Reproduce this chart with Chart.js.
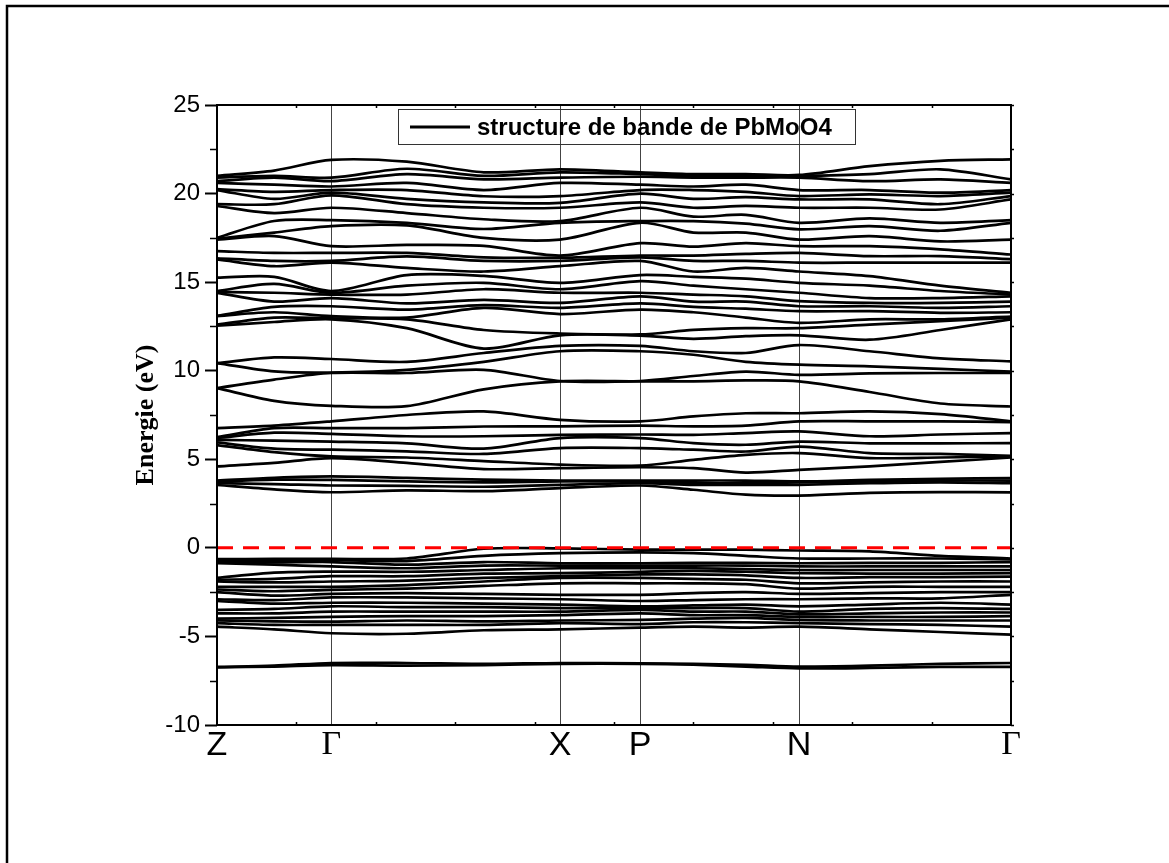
<!DOCTYPE html>
<html>
<head>
<meta charset="utf-8">
<script src="https://cdn.jsdelivr.net/npm/chart.js@4.4.0/dist/chart.umd.min.js"></script>
<style>
	html, body { margin: 0; padding: 0; background: #fff; }
	canvas { display: block; }
</style>
</head>
<body>
<canvas id="bands" width="1169" height="863"></canvas>
<script>
"use strict";

// k-path: sampling points along Z-G-X-P-N-G (arbitrary units, 0..10)
var kPoints = [0, 0.72, 1.44, 2.39, 3.36, 4.32, 5.33, 6.0, 6.66, 7.33, 8.22, 9.11, 10];
var symPoints = [0, 1.44, 4.32, 5.33, 7.33, 10];
var symLabels = ["Z", "\u0393", "X", "P", "N", "\u0393"];
var yTicks = [-10, -5, 0, 5, 10, 15, 20, 25];
var fermiLevel = 0;
var legendLabel = "structure de bande de PbMoO4";

// energies (eV), one column per k-point, sorted upward inside each group
var coreBands = [
	[-6.75, -6.72], [-6.7, -6.65], [-6.62, -6.5], [-6.65, -6.5], [-6.62, -6.55],
	[-6.55, -6.5], [-6.55, -6.52], [-6.6, -6.55], [-6.7, -6.6], [-6.8, -6.7],
	[-6.78, -6.65], [-6.72, -6.55], [-6.72, -6.5]
];

var valenceBands = [
	[-4.45, -4.25, -4.1, -4.0, -3.7, -3.5, -3.0, -2.9, -2.5, -2.35, -2.2, -1.9, -1.8, -1.7, -0.87, -0.8, -0.72, -0.64],
	[-4.6, -4.35, -4.15, -3.95, -3.7, -3.45, -3.15, -2.95, -2.7, -2.45, -2.2, -1.95, -1.75, -1.4, -0.95, -0.82, -0.72, -0.62],
	[-4.82, -4.35, -4.16, -3.9, -3.6, -3.3, -3.1, -2.8, -2.6, -2.37, -2.2, -1.9, -1.6, -1.34, -1.05, -0.8, -0.68, -0.62],
	[-4.85, -4.35, -4.1, -3.85, -3.6, -3.35, -3.1, -2.8, -2.55, -2.3, -2.1, -1.85, -1.6, -1.35, -1.15, -0.95, -0.75, -0.6],
	[-4.65, -4.35, -4.15, -3.85, -3.6, -3.35, -3.15, -2.85, -2.6, -2.15, -1.9, -1.7, -1.45, -1.25, -1.0, -0.8, -0.45, -0.05],
	[-4.6, -4.25, -4.1, -3.8, -3.6, -3.4, -3.2, -2.9, -2.65, -2.0, -1.7, -1.6, -1.43, -1.15, -1.0, -0.87, -0.3, -0.03],
	[-4.5, -4.3, -4.07, -3.7, -3.5, -3.4, -3.3, -3.0, -2.65, -2.0, -1.7, -1.5, -1.35, -1.15, -1.0, -0.87, -0.25, -0.1],
	[-4.45, -4.2, -4.0, -3.8, -3.6, -3.4, -3.25, -2.95, -2.55, -2.0, -1.75, -1.5, -1.3, -1.15, -1.0, -0.85, -0.3, -0.1],
	[-4.5, -4.2, -3.95, -3.8, -3.6, -3.4, -3.2, -2.9, -2.5, -2.05, -1.8, -1.55, -1.35, -1.2, -1.0, -0.85, -0.45, -0.1],
	[-4.45, -4.25, -4.07, -3.9, -3.75, -3.6, -3.3, -2.9, -2.6, -2.3, -2.0, -1.7, -1.43, -1.25, -1.05, -0.87, -0.6, -0.15],
	[-4.6, -4.3, -4.1, -3.9, -3.7, -3.45, -3.2, -2.85, -2.55, -2.2, -1.95, -1.65, -1.45, -1.25, -1.05, -0.85, -0.6, -0.2],
	[-4.75, -4.35, -4.1, -3.9, -3.65, -3.4, -3.1, -2.85, -2.5, -2.2, -1.9, -1.65, -1.45, -1.25, -1.05, -0.85, -0.6, -0.45],
	[-4.9, -4.45, -4.1, -3.85, -3.65, -3.45, -3.2, -2.65, -2.5, -2.2, -1.9, -1.62, -1.43, -1.25, -1.05, -0.8, -0.65, -0.6]
];

var lowConduction = [
	[3.55, 3.65, 3.75, 3.8, 4.6, 5.8, 5.95, 6.1, 6.2, 6.25, 6.76],
	[3.3, 3.6, 3.85, 3.95, 4.8, 5.4, 5.6, 6.05, 6.5, 6.76, 6.9],
	[3.14, 3.52, 3.84, 4.03, 5.07, 5.16, 5.54, 6.0, 6.44, 6.76, 7.14],
	[3.25, 3.5, 3.75, 3.95, 4.8, 5.1, 5.45, 5.9, 6.3, 6.76, 7.5],
	[3.2, 3.45, 3.7, 3.85, 4.45, 4.9, 5.3, 5.6, 6.3, 6.85, 7.7],
	[3.37, 3.56, 3.75, 3.8, 4.5, 4.7, 5.63, 6.2, 6.38, 6.86, 7.23],
	[3.52, 3.65, 3.75, 3.8, 4.55, 4.65, 5.63, 6.2, 6.4, 6.9, 7.14],
	[3.28, 3.56, 3.65, 3.8, 4.5, 4.97, 5.54, 5.91, 6.38, 6.86, 7.42],
	[3.0, 3.55, 3.65, 3.8, 4.25, 5.25, 5.44, 5.82, 6.48, 6.9, 7.6],
	[2.95, 3.56, 3.7, 3.75, 4.4, 5.35, 5.72, 6.0, 6.57, 7.14, 7.6],
	[3.1, 3.65, 3.75, 3.84, 4.6, 5.07, 5.35, 5.9, 6.3, 7.14, 7.7],
	[3.15, 3.7, 3.8, 3.9, 4.85, 5.1, 5.3, 5.9, 6.4, 7.14, 7.55],
	[3.13, 3.65, 3.8, 3.94, 5.1, 5.16, 5.2, 5.91, 6.48, 7.1, 7.14]
];

var midConduction = [
	[9.02, 9.02, 10.43, 10.43, 12.54, 12.6],
	[8.3, 9.5, 9.96, 10.75, 12.75, 13.0],
	[8.02, 9.87, 9.9, 10.66, 12.9, 12.95],
	[8.0, 9.87, 10.05, 10.5, 12.4, 12.9],
	[8.95, 10.05, 10.5, 11.0, 11.25, 12.3],
	[9.4, 9.42, 11.1, 11.4, 12.0, 12.1],
	[9.4, 9.42, 11.1, 11.4, 11.98, 12.05],
	[9.4, 9.7, 10.9, 11.1, 11.8, 12.3],
	[9.45, 9.95, 10.5, 11.0, 11.95, 12.4],
	[9.4, 9.77, 10.34, 11.45, 12.0, 12.4],
	[8.8, 9.85, 10.25, 11.1, 11.75, 12.6],
	[8.15, 9.87, 10.1, 10.7, 12.3, 12.8],
	[7.98, 9.87, 9.95, 10.53, 12.9, 13.0]
];

var highConduction = [
	[13.08, 13.1, 14.4, 14.45, 14.5, 15.25, 16.28, 16.35, 16.75, 17.4, 17.45, 17.5, 19.3, 19.4, 20.2, 20.25, 20.6, 20.7, 20.9, 21.0],
	[13.3, 13.6, 13.9, 14.4, 14.9, 15.3, 15.9, 16.2, 16.65, 17.6, 17.8, 18.45, 18.9, 19.4, 19.7, 20.1, 20.5, 20.9, 21.0, 21.3],
	[13.08, 13.64, 14.1, 14.3, 14.4, 14.5, 16.1, 16.2, 16.65, 17.03, 18.16, 18.5, 19.2, 19.9, 20.05, 20.2, 20.4, 20.7, 20.9, 21.9],
	[13.0, 13.45, 13.8, 14.3, 14.8, 15.4, 15.8, 16.45, 16.65, 17.1, 18.2, 18.35, 18.9, 19.4, 19.7, 20.2, 20.6, 21.1, 21.4, 21.8],
	[13.55, 13.7, 14.0, 14.6, 14.96, 15.35, 15.6, 16.2, 16.4, 17.05, 17.5, 18.0, 18.55, 19.2, 19.5, 19.85, 20.2, 20.8, 21.0, 21.2],
	[13.2, 13.55, 13.83, 14.4, 14.6, 14.96, 15.9, 16.2, 16.38, 16.5, 17.4, 18.35, 18.45, 19.2, 19.48, 19.86, 20.6, 20.9, 21.2, 21.37],
	[13.45, 13.8, 14.2, 14.4, 15.06, 15.4, 16.2, 16.4, 16.5, 17.2, 18.35, 18.45, 19.2, 19.5, 20.0, 20.2, 20.5, 20.95, 21.1, 21.2],
	[13.3, 13.6, 13.9, 14.3, 14.8, 15.3, 15.6, 16.2, 16.5, 17.0, 17.8, 18.45, 18.7, 19.2, 19.7, 20.2, 20.4, 20.9, 21.0, 21.1],
	[13.0, 13.5, 13.9, 14.2, 14.6, 15.2, 15.8, 16.2, 16.6, 17.2, 17.8, 18.3, 18.8, 19.3, 19.8, 20.1, 20.5, 20.9, 21.0, 21.1],
	[12.7, 13.36, 13.64, 13.93, 14.4, 14.96, 15.6, 16.1, 16.65, 17.03, 17.4, 17.98, 18.35, 19.2, 19.67, 19.86, 20.2, 20.9, 21.0, 21.05],
	[12.9, 13.36, 13.64, 13.83, 14.1, 14.8, 15.34, 16.1, 16.47, 17.03, 17.6, 18.16, 18.6, 19.2, 19.67, 19.95, 20.2, 20.7, 21.1, 21.55],
	[12.9, 13.27, 13.55, 13.83, 14.1, 14.5, 14.8, 16.1, 16.47, 16.85, 17.3, 17.9, 18.35, 19.1, 19.4, 19.86, 20.05, 20.8, 21.37, 21.85],
	[13.05, 13.3, 13.64, 13.9, 14.2, 14.3, 14.4, 16.1, 16.3, 16.56, 17.4, 18.35, 18.5, 19.67, 19.86, 20.05, 20.2, 20.6, 20.8, 21.93]
];

// turn column tables into one dataset per band
function bandDatasets(columns) {
	var sets = [];
	for (var b = 0; b < columns[0].length; b++) {
		sets.push({
			data: kPoints.map(function(k, j) { return {x: k, y: columns[j][b]}; }),
			borderColor: "#000",
			borderWidth: 2.7,
			pointRadius: 0,
			tension: 0.3,
			fill: false
		});
	}
	return sets;
}

var datasets = [{
	data: [{x: kPoints[0], y: fermiLevel}, {x: kPoints[kPoints.length - 1], y: fermiLevel}],
	borderColor: "#ff0000",
	borderWidth: 3,
	borderDash: [16, 10],
	pointRadius: 0,
	fill: false
}];
[coreBands, valenceBands, lowConduction, midConduction, highConduction].forEach(function(group) {
	datasets = datasets.concat(bandDatasets(group));
});

var SANS = "'Liberation Sans', Arial, sans-serif";
var SERIF = "'Liberation Serif', 'Times New Roman', serif";

var framePlugin = {
	id: "frame",
	beforeDraw: function(chart) {
		var ctx = chart.ctx;
		ctx.save();
		ctx.fillStyle = "#fff";
		ctx.fillRect(0, 0, chart.width, chart.height);
		ctx.strokeStyle = "#000";
		ctx.lineWidth = 2.5;
		ctx.strokeRect(7, 6, chart.width + 20, chart.height + 20);
		ctx.restore();
	},
	afterDraw: function(chart) {
		var ctx = chart.ctx, ca = chart.chartArea;
		var x = chart.scales.x, y = chart.scales.y;
		ctx.save();
		ctx.strokeStyle = "#000";
		ctx.lineWidth = 2;
		ctx.strokeRect(ca.left, ca.top, ca.right - ca.left, ca.bottom - ca.top);

		// minor ticks
		ctx.lineWidth = 1.5;
		ctx.beginPath();
		for (var v = -10; v <= 25; v += 2.5) {
			var py = Math.round(y.getPixelForValue(v)) + 0.5;
			if (v % 5 !== 0) {
				ctx.moveTo(ca.left - 7, py);
				ctx.lineTo(ca.left, py);
			}
			ctx.moveTo(ca.right, py);
			ctx.lineTo(ca.right + 3, py);
		}
		for (var k = 1; k < 10; k++) {
			var px = Math.round(x.getPixelForValue(k)) + 0.5;
			ctx.moveTo(px, ca.top);
			ctx.lineTo(px, ca.top + 3);
			ctx.moveTo(px, ca.bottom);
			ctx.lineTo(px, ca.bottom - 3);
		}
		ctx.stroke();

		// legend box
		var lx = ca.left + 181, ly = ca.top + 4;
		ctx.strokeStyle = "#333";
		ctx.lineWidth = 1;
		ctx.strokeRect(lx + 0.5, ly + 0.5, 457, 35);
		ctx.strokeStyle = "#000";
		ctx.lineWidth = 3;
		ctx.beginPath();
		ctx.moveTo(lx + 12, ly + 18);
		ctx.lineTo(lx + 72, ly + 18);
		ctx.stroke();
		ctx.fillStyle = "#000";
		ctx.font = "bold 24px " + SANS;
		ctx.textBaseline = "middle";
		ctx.textAlign = "left";
		ctx.fillText(legendLabel, lx + 79, ly + 19);
		ctx.restore();
	}
};

new Chart(document.getElementById("bands"), {
	type: "line",
	data: {datasets: datasets},
	plugins: [framePlugin],
	options: {
		responsive: false,
		animation: false,
		events: [],
		layout: {padding: {top: 105, right: 158, left: 0, bottom: 0}},
		plugins: {legend: {display: false}, tooltip: {enabled: false}},
		scales: {
			x: {
				type: "linear",
				position: "bottom",
				min: 0,
				max: 10,
				afterBuildTicks: function(scale) {
					scale.ticks = symPoints.map(function(v) { return {value: v}; });
				},
				afterFit: function(scale) { scale.height = 138; },
				ticks: {
					autoSkip: false,
					maxRotation: 0,
					padding: 0,
					color: "#000",
					callback: function(value, index) { return symLabels[index]; },
					font: function(c) {
						var isGamma = c.tick && symLabels[c.index] === "\u0393";
						return {family: isGamma ? SERIF : SANS, size: 34};
					}
				},
				grid: {drawOnChartArea: true, drawTicks: false, color: "#444", lineWidth: 1},
				border: {display: false}
			},
			y: {
				type: "linear",
				position: "left",
				min: -10,
				max: 25,
				afterBuildTicks: function(scale) {
					scale.ticks = yTicks.map(function(v) { return {value: v}; });
				},
				afterFit: function(scale) { scale.width = 217; },
				ticks: {color: "#000", padding: 5, font: {family: SANS, size: 24}},
				grid: {drawOnChartArea: false, drawTicks: true, tickLength: 12, tickColor: "#000", tickWidth: 2},
				border: {display: false},
				title: {
					display: true,
					text: "Energie (eV)",
					color: "#000",
					font: {family: SERIF, size: 26, weight: "bold"},
					padding: {top: 131, bottom: 0}
				}
			}
		}
	}
});
</script>
</body>
</html>
